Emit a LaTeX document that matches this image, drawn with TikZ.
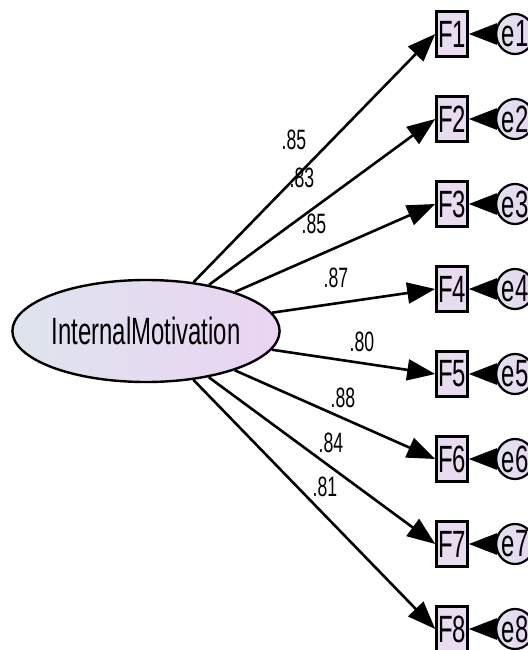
\documentclass[tikz,border=0pt]{standalone}
\usepackage{graphicx}
\usepackage{fontspec}
\setmainfont{Liberation Sans}
\usetikzlibrary{shapes.geometric,arrows.meta}
\definecolor{latL}{RGB}{222,228,238}
\definecolor{latR}{RGB}{234,212,242}
\definecolor{obsfill}{RGB}{233,219,240}
\newcommand{\narrowtxt}[1]{\scalebox{0.63}[1]{#1}}

\begin{document}
\begin{tikzpicture}[x=1pt,y=-1pt, >={Triangle[length=28pt,width=21pt]},
  lat/.style={draw,ellipse,line width=2.4pt,minimum width=262pt,minimum height=102pt,
    inner sep=0pt,left color=latL,right color=latR,font=\fontsize{38}{40}\selectfont},
  obs/.style={draw,line width=2.6pt,minimum width=31pt,minimum height=45pt,
    inner sep=0pt,fill=obsfill,font=\fontsize{38}{40}\selectfont},
  err/.style={draw,ellipse,line width=2.2pt,minimum width=35pt,minimum height=40pt,
    inner sep=0pt,left color=latL,right color=latR,font=\fontsize{38}{40}\selectfont},
  load/.style={->,line width=2.6pt},
  coef/.style={inner sep=0pt,font=\fontsize{28}{30}\selectfont}]
  \useasboundingbox (0,0) rectangle (527,650);
  \node[lat] (im) at (146,331) {\narrowtxt{InternalMotivation}};
  % indicators F1..F8 with their errors
  \foreach \i/\lam/\lx/\ly in {1/.85/294/140, 2/.83/302/178, 3/.85/314/224,
      4/.87/336/278, 5/.80/362/342, 6/.88/343/398, 7/.84/331/443, 8/.81/325/487}{
    \node[obs] (F\i) at (452,{34+85*(\i-1)}) {\narrowtxt{F\i}};
    \node[err] (e\i) at (515,{34+85*(\i-1)}) {\narrowtxt{e\i}};
    \draw[load] (e\i) -- (F\i);
    \draw[load] (im) -- (F\i.west);
    \node[coef] (c\i) at (\lx,\ly) {\narrowtxt{\lam}};
  }
\end{tikzpicture}
\end{document}
